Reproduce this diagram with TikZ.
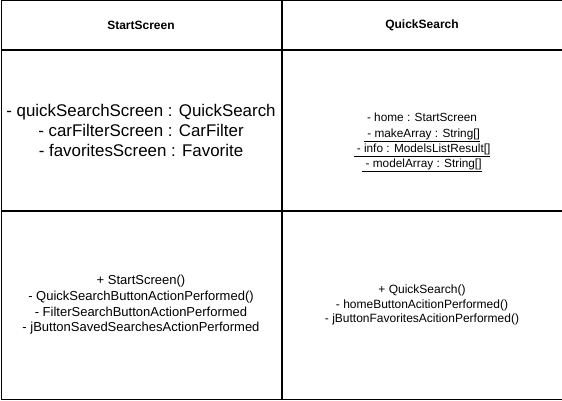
\documentclass[tikz,border=0pt]{standalone}
\usepackage{fontspec}
\setmainfont{Liberation Sans}
\usepackage{tikz}
\usetikzlibrary{positioning}

\begin{document}
\begin{tikzpicture}[
  x=1pt, y=-1pt,
  compart/.style={draw=black, line width=1pt, minimum width=280pt, inner sep=0pt, align=center},
  titlebox/.style={compart, minimum height=49pt, font=\fontsize{12}{14}\selectfont\bfseries},
  attrbox/.style={compart, minimum height=159pt},
  methbox/.style={compart, minimum height=188pt},
  member/.style={align=center, inner sep=0pt, font=\fontsize{11.8}{15}\selectfont},
]
\useasboundingbox (0,0) rectangle (562,401);

% StartScreen class
\node[titlebox] (startTitle) at (141,25.5) {StartScreen};
\node[attrbox, below=0pt of startTitle, font=\fontsize{16.9}{19.6}\selectfont] (startAttr)
  {- quickSearchScreen : QuickSearch\\- carFilterScreen : CarFilter\\- favoritesScreen : Favorite};
\node[methbox, below=0pt of startAttr, font=\fontsize{13}{15.7}\selectfont] (startMeth)
  {+ StartScreen()\\- QuickSearchButtonActionPerformed()\\- FilterSearchButtonActionPerformed\\- jButtonSavedSearchesActionPerformed};

% QuickSearch class
\node[titlebox, right=0pt of startTitle] (quickTitle) {QuickSearch};
\node[attrbox, below=0pt of quickTitle] (quickAttr) {};
\node[methbox, below=0pt of quickAttr, font=\fontsize{12}{14.6}\selectfont] (quickMeth)
  {+ QuickSearch()\\- homeButtonAcitionPerformed()\\- jButtonFavoritesAcitionPerformed()};

% attributes of QuickSearch (static ones underlined)
\node[member, below=62pt of quickAttr.north] (quickFields)
  {- home : StartScreen\\[1pt]\underline{~- makeArray : String[]}\\\underline{~- info : ModelsListResult[]}\\\underline{~- modelArray : String[]}};

\end{tikzpicture}
\end{document}
